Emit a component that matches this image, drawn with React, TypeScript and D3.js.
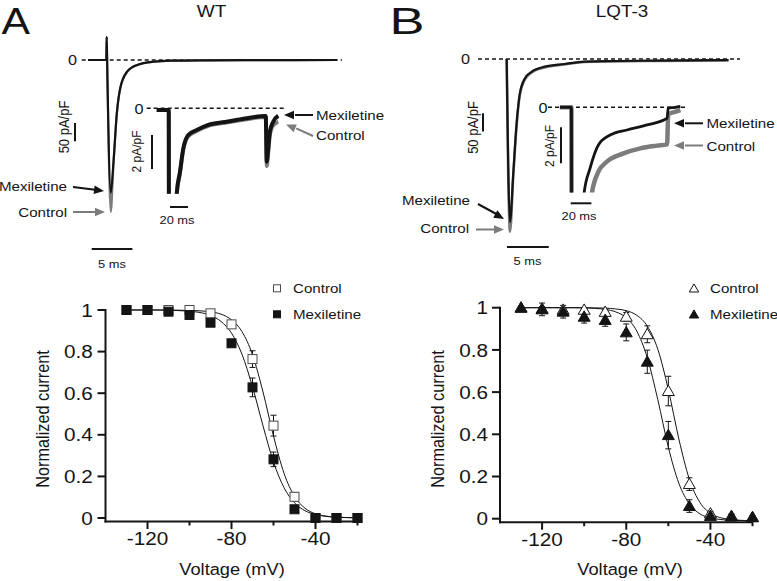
import * as d3 from "d3";

const FONT = "'Liberation Sans', Arial, Helvetica, sans-serif";
const SX = 1.12; // the original figure is slightly stretched horizontally
const INK = "#141414";
const GRAY = "#7c7c7c";

// ---------- steady-state inactivation (bottom panels) ----------
const voltages = [-130, -120, -110, -100, -90, -80, -70, -60, -50, -40, -30, -20];

const wtControl = [1.0, 1.0, 1.0, 1.0, 0.984, 0.931, 0.764, 0.444, 0.102, 0.0, 0.0, 0.0];
const wtControlErr = [0, 0, 0.01, 0.01, 0.01, 0.01, 0.04, 0.05, 0.02, 0, 0, 0];
const wtMex = [1.0, 1.0, 0.992, 0.976, 0.939, 0.84, 0.628, 0.282, 0.042, 0.0, 0.0, 0.0];
const wtMexErr = [0, 0, 0.01, 0.01, 0.01, 0.01, 0.045, 0.035, 0.01, 0, 0, 0];

const lqtControl = [1.0, 0.995, 0.99, 0.99, 0.98, 0.957, 0.874, 0.605, 0.164, 0.025, 0.013, 0.007];
const lqtControlErr = [0, 0.01, 0.01, 0.01, 0.01, 0.02, 0.04, 0.07, 0.03, 0.01, 0.01, 0.005];
const lqtMex = [1.0, 0.992, 0.981, 0.957, 0.942, 0.883, 0.744, 0.396, 0.06, 0.013, 0.01, 0.007];
const lqtMexErr = [0, 0.03, 0.03, 0.03, 0.03, 0.04, 0.055, 0.065, 0.03, 0.01, 0.01, 0.005];

// Boltzmann fit curves, every 5 mV
const fitVoltages = [
  -130, -125, -120, -115, -110, -105, -100, -95, -90, -85, -80, -75,
  -70, -65, -60, -55, -50, -45, -40, -35, -30, -25, -20,
];
const wtControlFit = [
  1.0, 1.0, 1.0, 1.0, 1.0, 0.999, 0.998, 0.996, 0.991, 0.98, 0.953, 0.896,
  0.785, 0.606, 0.394, 0.215, 0.104, 0.047, 0.02, 0.009, 0.004, 0.002, 0.001,
];
const wtMexFit = [
  1.0, 1.0, 1.0, 1.0, 0.999, 0.997, 0.994, 0.988, 0.974, 0.945, 0.889, 0.787,
  0.631, 0.443, 0.269, 0.146, 0.073, 0.035, 0.017, 0.008, 0.004, 0.002, 0.001,
];
const lqtControlFit = [
  1.0, 1.0, 1.0, 1.0, 1.0, 1.0, 1.0, 0.999, 0.998, 0.994, 0.986, 0.964,
  0.913, 0.803, 0.612, 0.378, 0.187, 0.077, 0.026, 0.004, -0.004, -0.008, -0.009,
];
const lqtMexFit = [
  1.0, 1.0, 1.0, 1.0, 1.0, 1.0, 0.999, 0.997, 0.992, 0.98, 0.953, 0.889,
  0.763, 0.564, 0.339, 0.168, 0.07, 0.023, 0.004, -0.004, -0.008, -0.009, -0.01,
];

const xTicksMajor = [-120, -80, -40];
const xTicksMinor = [-100, -60, -20];
const yTicks = [0, 0.2, 0.4, 0.6, 0.8, 1];

// ---------- current traces (top panels), time in ms, current in pA/pF ----------
const wtMainTime = [-2.3, -0.05, 0, 0.05, 0.5, 0.83, 1.25, 1.66, 2.5, 3.75, 5.8, 7.9, 12, 18, 28.3];
const wtMainMex = [0, 0, 63, 0, -363, -281, -144, -77, -32, -13.5, -4.6, -1.9, -0.8, -0.3, 0];
const wtMainControl = [0, 0, 63, 0, -415, -283, -146, -78, -33, -14, -4.8, -2, -0.9, -0.3, 0];

const wtInsetTime = [-13.7, -0.3, 0, 8, 8.6, 12.2, 15.9, 21.4, 30.8, 43.7, 62.2, 84.4, 107.5, 108.6, 110.3, 112.1, 115.8, 121.4];
const wtInsetMex = [-0.1, -0.1, -10, -10, -5.0, -3.73, -2.35, -1.57, -1.28, -0.98, -0.81, -0.6, -0.45, -3.14, -2.35, -1.38, -0.79, -0.44];
const wtInsetControl = [-0.1, -0.1, -10, -10, -5.1, -3.85, -2.45, -1.65, -1.34, -1.04, -0.86, -0.66, -0.52, -3.4, -2.6, -1.6, -1.0, -0.8];

const lqtMainTime = [0, 0.39, 0.79, 1.19, 1.58, 2.18, 2.98, 4.56, 6.94, 9.3, 13, 17.6, 26.6];
const lqtMainMex = [0, -445, -312, -176, -94, -53, -35, -21, -13.7, -7, -5.5, -4.5, -3];
const lqtMainControl = [0, -472, -318, -180, -97, -56, -37, -23, -15, -8, -6.5, -5.3, -3.5];

const lqtInsetMexTime = [-11.4, -0.3, 0, 11, 11.9, 17.7, 25.8, 37.2, 53.4, 72.8, 92.2, 93.2, 100, 105];
const lqtInsetMex = [0, 0, -10, -10, -4.8, -3.39, -2.09, -1.54, -1.26, -0.98, -0.61, -0.05, 0.0, 0.05];
const lqtInsetControlTime = [-11.4, -0.3, 0, 18, 19.4, 25.8, 34, 50.1, 66.3, 82.5, 92.2, 93.2, 100, 105];
const lqtInsetControl = [0, 0, -10, -10, -4.8, -3.58, -3.02, -2.56, -2.28, -2.13, -2.06, -0.4, -0.25, -0.15];

type Scale = d3.ScaleLinear<number, number>;

function T({ x, y, size, anchor = "start", rotate = false, fill = INK, children }: any) {
  const tf = `translate(${x},${y}) scale(${SX},1)` + (rotate ? " rotate(-90)" : "");
  return (
    <text transform={tf} fontSize={size} textAnchor={anchor} fontFamily={FONT} fill={fill}>
      {children}
    </text>
  );
}

function Arrow({ x1, y1, x2, y2, color }: any) {
  const a = Math.atan2(y2 - y1, x2 - x1);
  const L = 10;
  const W = 4.2;
  const bx = x2 - L * Math.cos(a);
  const by = y2 - L * Math.sin(a);
  const pts = [
    [x2, y2],
    [bx + W * Math.sin(a), by - W * Math.cos(a)],
    [bx - W * Math.sin(a), by + W * Math.cos(a)],
  ];
  return (
    <g>
      <line x1={x1} y1={y1} x2={bx + 1} y2={by} stroke={color} strokeWidth={2} />
      <polygon points={pts.map((p) => p.join(",")).join(" ")} fill={color} />
    </g>
  );
}

function Trace({ t, v, x, y, color, width, clip }: { t: number[]; v: number[]; x: Scale; y: Scale; color: string; width: number; clip?: string }) {
  const line = d3
    .line<number>()
    .x((_, i) => x(t[i]))
    .y((d) => y(d))
    .curve(d3.curveMonotoneX);
  return (
    <path
      d={line(v) || ""}
      fill="none"
      stroke={color}
      strokeWidth={width}
      strokeLinejoin="round"
      clipPath={clip ? `url(#${clip})` : undefined}
    />
  );
}

function Dashed({ x1, x2, y }: any) {
  return <line x1={x1} x2={x2} y1={y} y2={y} stroke={INK} strokeWidth={1.5} strokeDasharray="4,3" />;
}

function InactivationPlot({
  x,
  y,
  control,
  controlErr,
  mex,
  mexErr,
  controlFit,
  mexFit,
  marker,
  legendX,
  titleX,
  yTitleX,
  tickLabelX,
}: any) {
  const axisX = x(-140);
  const axisY = y(0) + 3.5;
  const fitLine = d3
    .line<number>()
    .x((_, i) => x(fitVoltages[i]))
    .y((d) => y(d))
    .curve(d3.curveMonotoneX);

  const drawMarker = (cx: number, cy: number, filled: boolean, small = false) => {
    if (marker === "square") {
      const s = small ? 7 : 9;
      return (
        <rect
          x={cx - s / 2}
          y={cy - s / 2}
          width={s}
          height={s}
          fill={filled ? INK : "#fff"}
          stroke={filled ? INK : "#4a4a4a"}
          strokeWidth={1}
        />
      );
    }
    const sym = d3.symbol(d3.symbolTriangle, small ? 38 : 62)();
    return (
      <path
        d={sym || ""}
        transform={`translate(${cx},${cy + 1})`}
        fill={filled ? INK : "#fff"}
        stroke={INK}
        strokeWidth={1}
      />
    );
  };

  const errBars = (vals: number[], errs: number[]) =>
    voltages.map((v, i) =>
      errs[i] > 0 ? (
        <g key={i} stroke={INK} strokeWidth={1}>
          <line x1={x(v)} x2={x(v)} y1={y(vals[i] + errs[i])} y2={y(vals[i] - errs[i])} />
          <line x1={x(v) - 3} x2={x(v) + 3} y1={y(vals[i] + errs[i])} y2={y(vals[i] + errs[i])} />
          <line x1={x(v) - 3} x2={x(v) + 3} y1={y(vals[i] - errs[i])} y2={y(vals[i] - errs[i])} />
        </g>
      ) : null
    );

  return (
    <g>
      {/* axes */}
      <line x1={axisX} x2={axisX} y1={y(1) - 1} y2={axisY + 1} stroke={INK} strokeWidth={2} />
      <line x1={axisX - 1} x2={x(-20)} y1={axisY} y2={axisY} stroke={INK} strokeWidth={2} />
      {yTicks.map((t) => (
        <g key={t}>
          <line x1={axisX - 8} x2={axisX} y1={y(t)} y2={y(t)} stroke={INK} strokeWidth={2} />
          <T x={tickLabelX} y={y(t) + 6.6} size={18.5} anchor="end">
            {String(t)}
          </T>
        </g>
      ))}
      {xTicksMajor.map((t) => (
        <g key={t}>
          <line x1={x(t)} x2={x(t)} y1={axisY} y2={axisY + 7.5} stroke={INK} strokeWidth={2} />
          <T x={x(t)} y={axisY + 23.5} size={18.5} anchor="middle">
            {String(t)}
          </T>
        </g>
      ))}
      {xTicksMinor.map((t) => (
        <line key={t} x1={x(t)} x2={x(t)} y1={axisY} y2={axisY + 4} stroke={INK} strokeWidth={2} />
      ))}
      <T x={titleX} y={575} size={16.3} anchor="middle">
        Voltage (mV)
      </T>
      <T x={yTitleX} y={419} size={16.3} anchor="middle" rotate>
        Normalized current
      </T>

      {/* fits */}
      <path d={fitLine(controlFit) || ""} fill="none" stroke={INK} strokeWidth={1} />
      <path d={fitLine(mexFit) || ""} fill="none" stroke={INK} strokeWidth={1} />

      {/* data */}
      {errBars(control, controlErr)}
      {errBars(mex, mexErr)}
      {voltages.map((v, i) => (
        <g key={"c" + i}>{drawMarker(x(v), y(control[i]), false)}</g>
      ))}
      {voltages.map((v, i) => (
        <g key={"m" + i}>{drawMarker(x(v), y(mex[i]), true)}</g>
      ))}

      {/* legend */}
      {drawMarker(legendX, 288.3, false, true)}
      <T x={legendX + 16} y={293} size={13.5}>
        Control
      </T>
      {drawMarker(legendX, 314.3, true, true)}
      <T x={legendX + 16} y={319} size={13.5}>
        Mexiletine
      </T>
    </g>
  );
}

export default function App() {
  // bottom plots
  const xL = d3.scaleLinear().domain([-140, -20]).range([105.5, 357.5]);
  const yL = d3.scaleLinear().domain([0, 1]).range([518, 310]);
  const xR = d3.scaleLinear().domain([-140, -20]).range([500, 752.5]);
  const yR = d3.scaleLinear().domain([0, 1]).range([518.7, 307.7]);

  // top traces
  const xA = d3.scaleLinear().domain([0, 5]).range([106.7, 147.4]);
  const yA = d3.scaleLinear().domain([0, -50]).range([60, 78.3]);
  const xAi = d3.scaleLinear().domain([0, 20]).range([169, 187]);
  const yAi = d3.scaleLinear().domain([0, -2]).range([108.3, 142.3]);
  const xB = d3.scaleLinear().domain([0, 5]).range([506.7, 548.4]);
  const yB = d3.scaleLinear().domain([0, -50]).range([59, 77.3]);
  const xBi = d3.scaleLinear().domain([0, 20]).range([571.7, 592.4]);
  const yBi = d3.scaleLinear().domain([0, -2]).range([107.3, 143.3]);

  return (
    <svg
      width={777}
      height={581}
      viewBox="0 0 777 581"
      style={{ position: "absolute", left: 0, top: 0, background: "#fff" }}
    >
      <defs>
        <clipPath id="clipAi">
          <rect x={140} y={90} width={170} height={yAi(-5) - 90 + 0.5} />
        </clipPath>
        <clipPath id="clipBi">
          <rect x={540} y={90} width={160} height={yBi(-4.7) - 90 + 0.5} />
        </clipPath>
      </defs>
      <rect width={777} height={581} fill="#fff" />

      {/* ---------------- Panel A ---------------- */}
      <text x={1.5} y={33.5} fontSize={36} fontFamily={FONT} fill={INK} textLength={28.5} lengthAdjust="spacingAndGlyphs">
        A
      </text>
      <T x={211.5} y={16.7} size={17} anchor="middle">
        WT
      </T>
      <T x={77} y={65.2} size={14.5} anchor="end">
        0
      </T>
      <Dashed x1={81.7} x2={342} y={yA(0)} />
      <Trace t={wtMainTime} v={wtMainControl} x={xA} y={yA} color={GRAY} width={2.2} />
      <Trace t={wtMainTime} v={wtMainMex} x={xA} y={yA} color={INK} width={2.2} />

      {/* scale bars A */}
      <line x1={75} x2={75} y1={123} y2={123 + (yA(-50) - yA(0))} stroke={INK} strokeWidth={2} />
      <T x={69} y={127} size={13} anchor="middle" rotate>
        50 pA/pF
      </T>
      <line x1={91.7} x2={91.7 + xA(5) - xA(0)} y1={249} y2={249} stroke={INK} strokeWidth={2} />
      <T x={112} y={267.5} size={11.5} anchor="middle">
        5 ms
      </T>

      <T x={67} y={191} size={13.5} anchor="end">
        Mexiletine
      </T>
      <Arrow x1={73} y1={187} x2={104} y2={191} color={INK} />
      <T x={67} y={217} size={13.5} anchor="end">
        Control
      </T>
      <Arrow x1={73} y1={212} x2={105} y2={212} color={GRAY} />

      {/* inset A */}
      <T x={143.5} y={113.5} size={14.5} anchor="end">
        0
      </T>
      <Dashed x1={146.7} x2={285} y={yAi(0)} />
      <Trace t={wtInsetTime} v={wtInsetControl} x={xAi} y={yAi} color={GRAY} width={3.8} clip="clipAi" />
      <Trace t={wtInsetTime} v={wtInsetMex} x={xAi} y={yAi} color={INK} width={4} clip="clipAi" />
      <line x1={152} x2={152} y1={135} y2={135 + (yAi(-2) - yAi(0))} stroke={INK} strokeWidth={2} />
      <T x={141} y={151.5} size={12} anchor="middle" rotate>
        2 pA/pF
      </T>
      <line x1={170} x2={170 + xAi(20) - xAi(0)} y1={207} y2={207} stroke={INK} strokeWidth={2} />
      <T x={177} y={224} size={11.5} anchor="middle">
        20 ms
      </T>
      <Arrow x1={313} y1={115} x2={284} y2={115} color={INK} />
      <T x={316} y={119.5} size={13.5}>
        Mexiletine
      </T>
      <Arrow x1={313} y1={136} x2={286} y2={124.5} color={GRAY} />
      <T x={316} y={140} size={13.5}>
        Control
      </T>

      {/* ---------------- Panel B ---------------- */}
      <text x={389.5} y={33.5} fontSize={36} fontFamily={FONT} fill={INK} textLength={35} lengthAdjust="spacingAndGlyphs">
        B
      </text>
      <T x={622} y={16.7} size={16.8} anchor="middle">
        LQT-3
      </T>
      <T x={470} y={64.2} size={14.5} anchor="end">
        0
      </T>
      <Dashed x1={478} x2={740} y={yB(0)} />
      <Trace t={lqtMainTime} v={lqtMainControl} x={xB} y={yB} color={GRAY} width={2.6} />
      <Trace t={lqtMainTime} v={lqtMainMex} x={xB} y={yB} color={INK} width={2.2} />

      <line x1={483} x2={483} y1={113.3} y2={113.3 + (yB(-50) - yB(0))} stroke={INK} strokeWidth={2} />
      <T x={478} y={127.5} size={13} anchor="middle" rotate>
        50 pA/pF
      </T>
      <line x1={507} x2={507 + xB(5) - xB(0)} y1={247} y2={247} stroke={INK} strokeWidth={2} />
      <T x={527.5} y={265} size={11.5} anchor="middle">
        5 ms
      </T>

      <T x={470} y={205} size={13.5} anchor="end">
        Mexiletine
      </T>
      <Arrow x1={478} y1={204} x2={504} y2={219} color={INK} />
      <T x={469} y={233} size={13.5} anchor="end">
        Control
      </T>
      <Arrow x1={476} y1={229.5} x2={504} y2={229.5} color={GRAY} />

      {/* inset B */}
      <T x={547.5} y={112.5} size={14.5} anchor="end">
        0
      </T>
      <Dashed x1={548} x2={686.7} y={yBi(0)} />
      <Trace t={lqtInsetControlTime} v={lqtInsetControl} x={xBi} y={yBi} color={GRAY} width={4.5} clip="clipBi" />
      <Trace t={lqtInsetMexTime} v={lqtInsetMex} x={xBi} y={yBi} color={INK} width={2.8} clip="clipBi" />
      <line x1={561} x2={561} y1={127.3} y2={127.3 + (yBi(-2) - yBi(0))} stroke={INK} strokeWidth={2} />
      <T x={554} y={146} size={12} anchor="middle" rotate>
        2 pA/pF
      </T>
      <line x1={570.7} x2={570.7 + xBi(20) - xBi(0)} y1={203.3} y2={203.3} stroke={INK} strokeWidth={2} />
      <T x={579} y={219.5} size={11.5} anchor="middle">
        20 ms
      </T>
      <Arrow x1={703} y1={123.3} x2={674} y2={123.3} color={INK} />
      <T x={706.5} y={128} size={13.5}>
        Mexiletine
      </T>
      <Arrow x1={703} y1={145.5} x2={674} y2={145.5} color={GRAY} />
      <T x={706.5} y={150.5} size={13.5}>
        Control
      </T>

      {/* ---------------- bottom plots ---------------- */}
      <InactivationPlot
        x={xL}
        y={yL}
        control={wtControl}
        controlErr={wtControlErr}
        mex={wtMex}
        mexErr={wtMexErr}
        controlFit={wtControlFit}
        mexFit={wtMexFit}
        marker="square"
        legendX={277}
        titleX={232}
        yTitleX={49}
        tickLabelX={92.7}
      />
      <InactivationPlot
        x={xR}
        y={yR}
        control={lqtControl}
        controlErr={lqtControlErr}
        mex={lqtMex}
        mexErr={lqtMexErr}
        controlFit={lqtControlFit}
        mexFit={lqtMexFit}
        marker="triangle"
        legendX={694}
        titleX={630}
        yTitleX={443.5}
        tickLabelX={488}
      />
    </svg>
  );
}
